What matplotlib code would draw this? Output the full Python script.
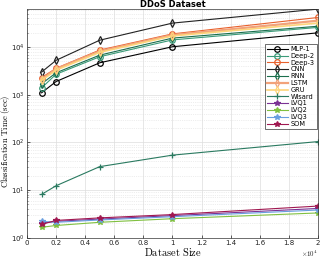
import matplotlib
matplotlib.use("Agg")
import matplotlib.pyplot as plt
import numpy as np

plt.rcParams['mathtext.fontset'] = 'cm'

sizes = [1000, 2000, 5000, 10000, 20000]
names = ["MLP-1", "Deep-2", "Deep-3", "CNN", "RNN", "LSTM", "GRU",
         "Wisard", "LVQ1", "LVQ2", "LVQ3", "SOM"]
mlp1 = [1100, 1900, 4700, 10200, 20000]
deep2 = [1400, 2700, 6300, 14200, 26000]
deep3 = [2300, 3600, 8700, 19000, 42000]
cnn = [3000, 5300, 14000, 32000, 63000]
rnn = [1700, 2900, 6800, 15500, 27500]
lstm = [2100, 3500, 8200, 18000, 36000]
gru = [2000, 3300, 7800, 17200, 32000]
wisard = [8.1, 12.3, 31, 54, 104]
lvq1 = [2.0, 2.2, 2.45, 2.9, 4.1]
lvq2 = [1.65, 1.8, 2.1, 2.5, 3.3]
lvq3 = [2.2, 2.1, 2.35, 2.75, 3.8]
som = [1.9, 2.3, 2.6, 3.05, 4.6]
series = [mlp1, deep2, deep3, cnn, rnn, lstm, gru, wisard, lvq1, lvq2, lvq3, som]
xticklabels = ["0", "0.2", "0.4", "0.6", "0.8", "1", "1.2", "1.4", "1.6", "1.8", "2"]

colors = ["#000000", "#3a9a78", "#e8602c", "#222222", "#1a6e4c", "#f2a27a",
          "#fdd47a", "#2a7a60", "#7b3294", "#80c040", "#6a9fe0", "#a01850"]
markers = ["o", "o", "o", "d", "d", "d", "d", "+", "*", "*", "*", "*"]
lws = [0.8, 0.8, 0.8, 0.8, 0.8, 1.6, 1.2, 0.8, 0.8, 0.8, 0.8, 0.8]

fig = plt.figure(figsize=(3.22, 2.6), dpi=100)
ax = fig.add_axes([0.084, 0.086, 0.903, 0.879])

for name, vals, c, m, lw in zip(names, series, colors, markers, lws):
    ax.plot(sizes, vals, color=c, marker=m, markersize=4, lw=lw,
            markerfacecolor='none' if m in ('o', 'd') else c,
            markeredgewidth=0.9, label=name)

ax.set_yscale('log')
ax.set_xlim(0, 20000)
ax.set_ylim(1, 63000)
ax.set_xticks(np.arange(0, 20001, 2000))
ax.set_xticklabels(xticklabels)
ax.tick_params(labelsize=5, direction='in', length=2, width=0.5, pad=1.5, colors='#222222')
ax.tick_params(which='minor', direction='in', length=1, width=0.4)
ax.grid(True, which='major', color='#dddddd', lw=0.5)
ax.grid(True, which='minor', color='#dddddd', lw=0.5, ls=':')
ax.set_axisbelow(True)
for s in ax.spines.values():
    s.set_linewidth(0.5)
    s.set_color('#333333')

ax.set_title("DDoS Dataset", fontsize=6, fontweight='bold', pad=1.5)
ax.set_xlabel(r"$\mathrm{Dataset\ Size}$", fontsize=7.5, labelpad=0)
ax.set_ylabel(r"$\mathrm{Classification\ Time\ (sec)}$", fontsize=6.2)
ax.yaxis.set_label_coords(-0.052, 0.42)
ax.text(1.0, -0.05, r"$\times 10^4$", transform=ax.transAxes, ha='right',
        va='top', fontsize=5, color='#222222')

leg = ax.legend(loc='upper right', bbox_to_anchor=(0.997, 0.847), fontsize=4.8,
                frameon=True, fancybox=False, edgecolor='black', borderaxespad=0,
                handlelength=3.2, labelspacing=0.12, borderpad=0.3, handletextpad=0.4)
leg.get_frame().set_linewidth(0.5)

fig.savefig("out.png", dpi=100)
